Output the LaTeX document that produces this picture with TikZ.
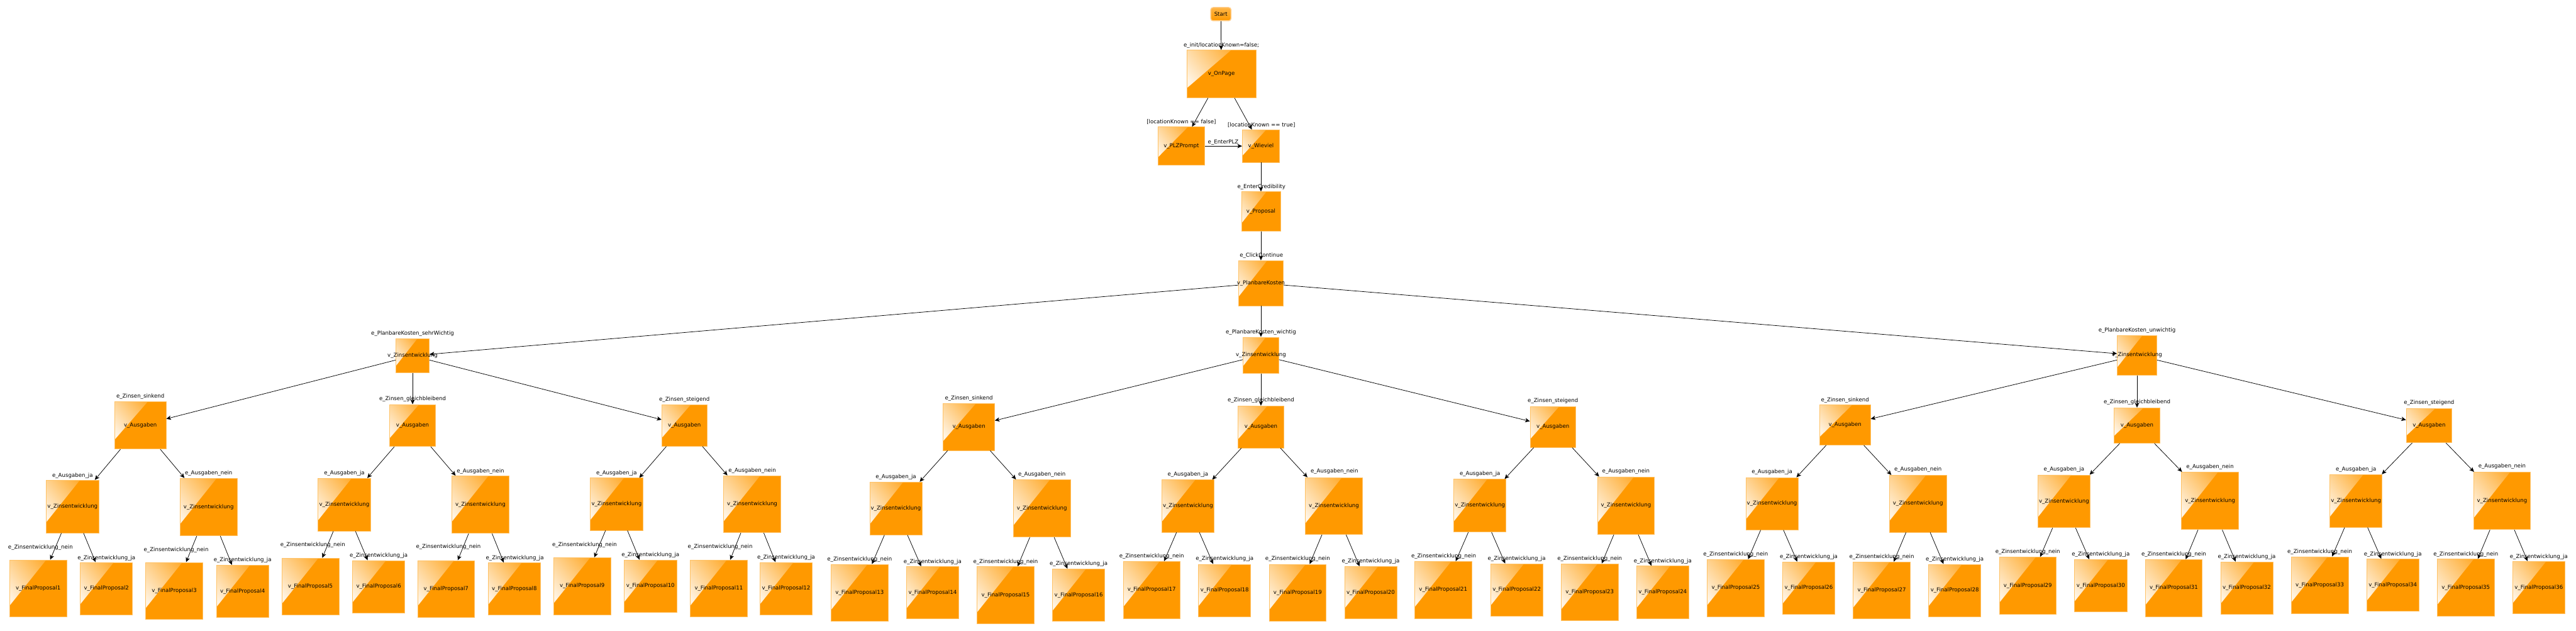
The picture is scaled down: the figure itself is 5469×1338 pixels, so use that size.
\documentclass[tikz,border=0pt]{standalone}
\usepackage{fontspec}
\setmainfont{DejaVu Sans}
\usetikzlibrary{arrows.meta,calc}
\definecolor{boxorange}{HTML}{FF9900}
\definecolor{boxborder}{HTML}{FFC266}
\definecolor{glosshi}{HTML}{FFF4E4}
\definecolor{glossedge}{HTML}{FFA41C}
\definecolor{starttop}{HTML}{FFB547}
\definecolor{startborder}{HTML}{FFCB85}
\tikzset{
  txt/.style={font=\fontsize{11.5}{13}\selectfont},
  box/.style={txt, draw=boxborder, line width=1pt, fill=boxorange, inner sep=0pt,
    path picture={
      \shade[top color=glosshi, bottom color=glossedge, shading angle=129]
        (path picture bounding box.north west)
        -- ($(path picture bounding box.north west)!0.64!(path picture bounding box.north east)$)
        -- ($(path picture bounding box.north west)!0.80!(path picture bounding box.south west)$)
        -- cycle;
    }},
  startbox/.style={txt, draw=startborder, line width=2pt, rounded corners=5pt,
    top color=starttop, bottom color=boxorange, inner sep=0pt},
  lbl/.style={txt, inner sep=0pt},
  arr/.style={draw=black, line width=1pt, -{Stealth[length=10pt,width=9pt,inset=2.5pt]}},
}
\newcommand{\bx}[6]{\node[box, minimum width=#4pt, minimum height=#5pt] (#1) at (#2,#3) {\makebox[0pt]{#6}};}
\newcommand{\lb}[4]{\node[lbl] (#1) at (#2,#3) {#4};}
\begin{document}
\begin{tikzpicture}[x=1pt,y=-1pt]
\useasboundingbox (0,0) rectangle (5469,1338);

% ---------- top chain ----------
\node[startbox, minimum width=43pt, minimum height=28pt] (Start) at (2592,30) {\makebox[0pt]{Start}};
\bx{OnPage}{2593}{157}{147}{101}{v\_OnPage}
\bx{PLZ}{2508}{310}{100}{81}{v\_PLZPrompt}
\bx{Wieviel}{2677}{310}{79}{69}{v\_Wieviel}
\bx{Proposal}{2677}{449}{83}{84}{v\_Proposal}
\bx{PK}{2677}{601}{95}{96}{v\_PlanbareKosten}

% ---------- level 2 ----------
\bx{ZL}{876}{755}{71}{72}{v\_Zinsentwicklung}
\bx{ZM}{2677}{754}{76}{77}{v\_Zinsentwicklung}
\bx{ZR}{4537}{754}{84}{85}{v\_Zinsentwicklung}

% ---------- level 3 ----------
\bx{AL1}{298}{903}{109}{100}{v\_Ausgaben}
\bx{AL2}{876}{903}{97}{89}{v\_Ausgaben}
\bx{AL3}{1453}{903}{96}{88}{v\_Ausgaben}
\bx{AM1}{2057}{906}{109}{100}{v\_Ausgaben}
\bx{AM2}{2677}{906}{98}{89}{v\_Ausgaben}
\bx{AM3}{3297}{906}{97}{87}{v\_Ausgaben}
\bx{AR1}{3917}{902}{108}{85}{v\_Ausgaben}
\bx{AR2}{4537}{903}{98}{75}{v\_Ausgaben}
\bx{AR3}{5157}{903}{97}{73}{v\_Ausgaben}

% ---------- level 4 ----------
\bx{ZL1a}{154}{1075}{112}{112}{v\_Zinsentwicklung}
\bx{ZL1b}{443}{1076}{122}{122}{v\_Zinsentwicklung}
\bx{ZL2a}{731}{1071}{112}{112}{v\_Zinsentwicklung}
\bx{ZL2b}{1020}{1071}{122}{122}{v\_Zinsentwicklung}
\bx{ZL3a}{1309}{1070}{111}{111}{v\_Zinsentwicklung}
\bx{ZL3b}{1597}{1070}{121}{121}{v\_Zinsentwicklung}
\bx{ZM1a}{1902}{1079}{111}{112}{v\_Zinsentwicklung}
\bx{ZM1b}{2212}{1079}{122}{122}{v\_Zinsentwicklung}
\bx{ZM2a}{2522}{1074}{111}{111}{v\_Zinsentwicklung}
\bx{ZM2b}{2832}{1074}{121}{121}{v\_Zinsentwicklung}
\bx{ZM3a}{3142}{1073}{111}{112}{v\_Zinsentwicklung}
\bx{ZM3b}{3452}{1073}{121}{122}{v\_Zinsentwicklung}
\bx{ZR1a}{3762}{1069}{111}{111}{v\_Zinsentwicklung}
\bx{ZR1b}{4072}{1069}{121}{121}{v\_Zinsentwicklung}
\bx{ZR2a}{4382}{1064}{111}{112}{v\_Zinsentwicklung}
\bx{ZR2b}{4692}{1063}{121}{122}{v\_Zinsentwicklung}
\bx{ZR3a}{5002}{1063}{111}{112}{v\_Zinsentwicklung}
\bx{ZR3b}{5312}{1063}{121}{122}{v\_Zinsentwicklung}

% ---------- level 5 ----------
\bx{FP1}{81}{1249}{121}{121}{v\_FinalProposal1}
\bx{FP2}{226}{1249}{111}{111}{v\_FinalProposal2}
\bx{FP3}{370}{1254}{121}{121}{v\_FinalProposal3}
\bx{FP4}{515}{1255}{111}{111}{v\_FinalProposal4}
\bx{FP5}{659}{1245}{121}{121}{v\_FinalProposal5}
\bx{FP6}{804}{1245}{111}{111}{v\_FinalProposal6}
\bx{FP7}{947}{1250}{121}{121}{v\_FinalProposal7}
\bx{FP8}{1092}{1250}{111}{111}{v\_FinalProposal8}
\bx{FP9}{1236}{1244}{121}{121}{v\_FinalProposal9}
\bx{FP10}{1381}{1244}{111}{111}{v\_FinalProposal10}
\bx{FP11}{1526}{1249}{121}{121}{v\_FinalProposal11}
\bx{FP12}{1669}{1249}{111}{111}{v\_FinalProposal12}
\bx{FP13}{1825}{1258}{121}{121}{v\_FinalProposal13}
\bx{FP14}{1980}{1258}{111}{111}{v\_FinalProposal14}
\bx{FP15}{2135}{1263}{121}{121}{v\_FinalProposal15}
\bx{FP16}{2290}{1263}{111}{111}{v\_FinalProposal16}
\bx{FP17}{2445}{1252}{121}{121}{v\_FinalProposal17}
\bx{FP18}{2600}{1253}{111}{111}{v\_FinalProposal18}
\bx{FP19}{2755}{1258}{121}{121}{v\_FinalProposal19}
\bx{FP20}{2910}{1258}{111}{111}{v\_FinalProposal20}
\bx{FP21}{3064}{1252}{121}{121}{v\_FinalProposal21}
\bx{FP22}{3220}{1252}{111}{111}{v\_FinalProposal22}
\bx{FP23}{3375}{1257}{121}{121}{v\_FinalProposal23}
\bx{FP24}{3530}{1257}{111}{111}{v\_FinalProposal24}
\bx{FP25}{3685}{1248}{121}{121}{v\_FinalProposal25}
\bx{FP26}{3840}{1248}{111}{111}{v\_FinalProposal26}
\bx{FP27}{3995}{1253}{121}{121}{v\_FinalProposal27}
\bx{FP28}{4150}{1253}{111}{111}{v\_FinalProposal28}
\bx{FP29}{4305}{1243}{121}{121}{v\_FinalProposal29}
\bx{FP30}{4460}{1243}{111}{111}{v\_FinalProposal30}
\bx{FP31}{4615}{1248}{121}{121}{v\_FinalProposal31}
\bx{FP32}{4770}{1248}{111}{111}{v\_FinalProposal32}
\bx{FP33}{4925}{1242}{121}{121}{v\_FinalProposal33}
\bx{FP34}{5080}{1242}{111}{111}{v\_FinalProposal34}
\bx{FP35}{5235}{1247}{121}{121}{v\_FinalProposal35}
\bx{FP36}{5390}{1247}{111}{111}{v\_FinalProposal36}

% ---------- labels ----------
\lb{lInit}{2593}{97}{e\_init/locationKnown=false;}
\lb{lFalse}{2508}{259}{[locationKnown == false]}
\lb{lTrue}{2678}{266}{[locationKnown == true]}
\lb{lPLZ}{2597}{302}{e\_EnterPLZ}
\lb{lCred}{2678}{397}{e\_EnterCredibility}
\lb{lCont}{2678}{542}{e\_ClickContinue}
\lb{lSW}{876}{708}{e\_PlanbareKosten\_sehrWichtig}
\lb{lW}{2677}{705}{e\_PlanbareKosten\_wichtig}
\lb{lUW}{4537}{701}{e\_PlanbareKosten\_unwichtig}

\lb{lAL1}{298}{842}{e\_Zinsen\_sinkend}
\lb{lAL2}{876}{847}{e\_Zinsen\_gleichbleibend}
\lb{lAL3}{1453}{848}{e\_Zinsen\_steigend}
\lb{lAM1}{2057}{845}{e\_Zinsen\_sinkend}
\lb{lAM2}{2677}{850}{e\_Zinsen\_gleichbleibend}
\lb{lAM3}{3297}{851}{e\_Zinsen\_steigend}
\lb{lAR1}{3917}{849}{e\_Zinsen\_sinkend}
\lb{lAR2}{4537}{854}{e\_Zinsen\_gleichbleibend}
\lb{lAR3}{5157}{855}{e\_Zinsen\_steigend}

\foreach \n/\x/\y in {ZL1a/154/1010, ZL2a/731/1004, ZL3a/1309/1004, ZM1a/1902/1012, ZM2a/2522/1007, ZM3a/3142/1006, ZR1a/3762/1002, ZR2a/4382/997, ZR3a/5002/996}
  {\node[lbl] (l\n) at (\x,\y) {e\_Ausgaben\_ja};}
\foreach \n/\x/\y in {ZL1b/443/1004, ZL2b/1020/1000, ZL3b/1597/999, ZM1b/2212/1007, ZM2b/2833/1001, ZM3b/3452/1001, ZR1b/4072/997, ZR2b/4692/991, ZR3b/5312/990}
  {\node[lbl] (l\n) at (\x,\y) {e\_Ausgaben\_nein};}
\foreach \n/\x/\y in {1/86/1162, 3/374/1167, 5/664/1156, 7/952/1161, 9/1241/1156, 11/1529/1161, 13/1825/1187, 15/2135/1192, 17/2445/1181, 19/2755/1186, 21/3065/1181, 23/3375/1186, 25/3685/1177, 27/3995/1182, 29/4305/1171, 31/4615/1176, 33/4925/1171, 35/5235/1176}
  {\node[lbl] (lFP\n) at (\x,\y) {e\_Zinsentwicklung\_nein};}
\foreach \n/\x/\y in {2/226/1184, 4/515/1189, 6/804/1179, 8/1093/1184, 10/1381/1178, 12/1669/1183, 14/1980/1192, 16/2290/1197, 18/2600/1186, 20/2910/1191, 22/3220/1186, 24/3530/1191, 26/3840/1182, 28/4150/1187, 30/4460/1176, 32/4770/1182, 34/5080/1176, 36/5390/1182}
  {\node[lbl] (lFP\n) at (\x,\y) {e\_Zinsentwicklung\_ja};}

% ---------- connectors ----------
\draw[arr] (Start) -- (OnPage);
\draw[arr] (OnPage) -- (PLZ);
\draw[arr] (OnPage) -- (Wieviel);
\draw[arr] (PLZ) -- (Wieviel);
\draw[arr] (Wieviel) -- (Proposal);
\draw[arr] (Proposal) -- (PK);
\draw[arr] (PK) -- (ZL);
\draw[arr] (PK) -- (ZM);
\draw[arr] (PK) -- (ZR);
\foreach \z/\s in {ZL/L, ZM/M, ZR/R}{
  \draw[arr] (\z) -- (A\s1);
  \draw[arr] (\z) -- (A\s2);
  \draw[arr] (\z) -- (A\s3);
}
\foreach \a in {L1,L2,L3,M1,M2,M3,R1,R2,R3}{
  \draw[arr] (A\a) -- (Z\a a);
  \draw[arr] (A\a) -- (Z\a b);
}
\foreach \z/\p/\q in {ZL1a/1/2, ZL1b/3/4, ZL2a/5/6, ZL2b/7/8, ZL3a/9/10, ZL3b/11/12, ZM1a/13/14, ZM1b/15/16, ZM2a/17/18, ZM2b/19/20, ZM3a/21/22, ZM3b/23/24, ZR1a/25/26, ZR1b/27/28, ZR2a/29/30, ZR2b/31/32, ZR3a/33/34, ZR3b/35/36}{
  \draw[arr] (\z) -- (FP\p);
  \draw[arr] (\z) -- (FP\q);
}
\end{tikzpicture}
\end{document}
